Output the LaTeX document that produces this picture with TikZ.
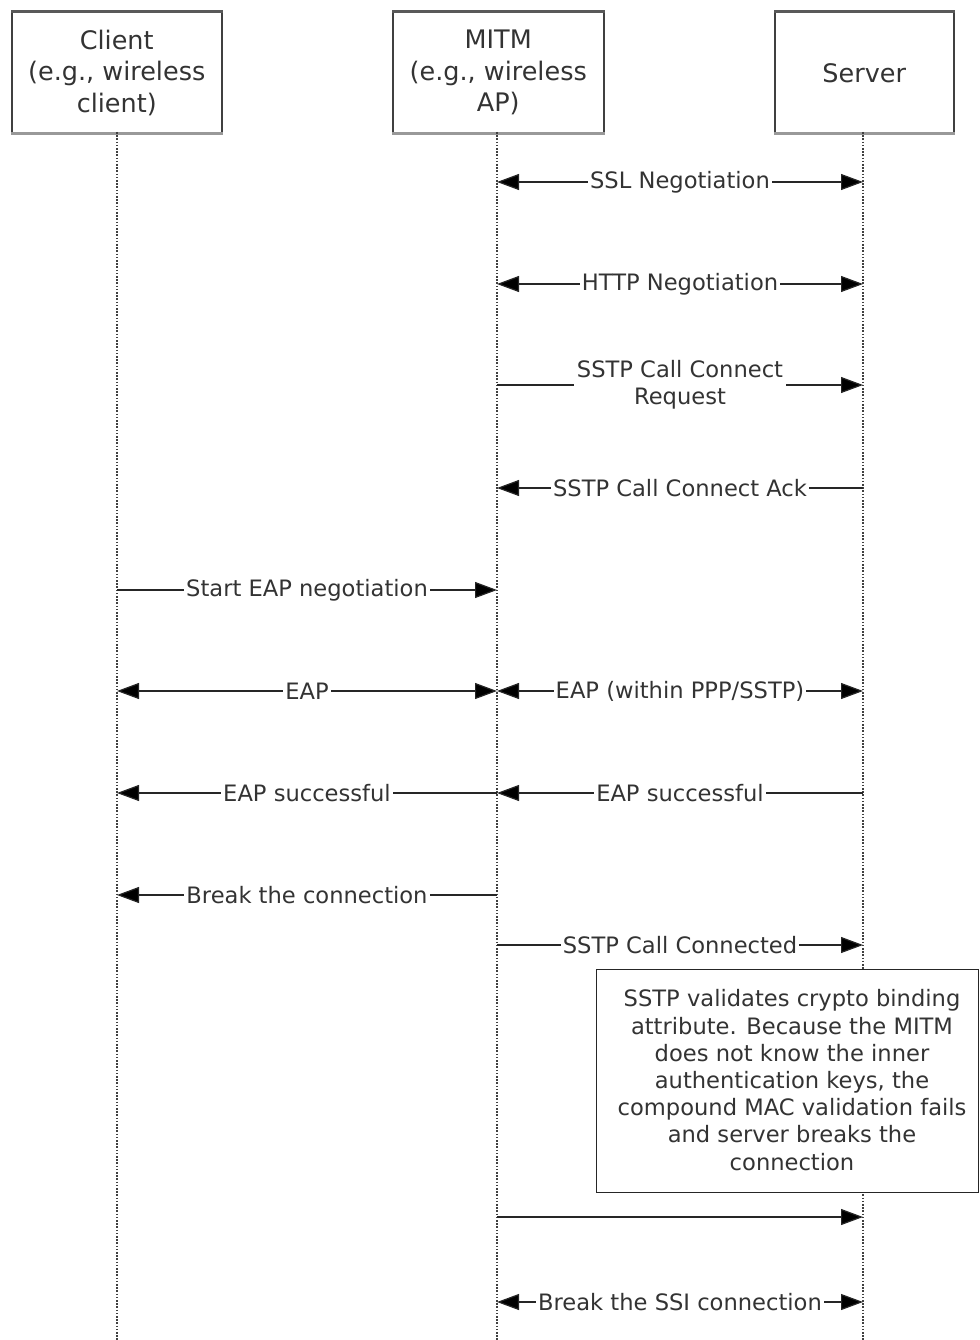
\documentclass[tikz,border=0pt]{standalone}
\usepackage{fontspec}
\setmainfont{DejaVu Sans}
\usetikzlibrary{arrows.meta}
\definecolor{txt}{HTML}{333333}
\begin{document}
\begin{tikzpicture}[x=1pt,y=-1pt,
  font=\fontsize{22.6}{27.2}\selectfont,
  head/.style={draw=black!75,line width=1.5pt,minimum width=#1,minimum height=120pt,align=center,text=txt,inner sep=0pt,anchor=north west,font=\fontsize{25.5}{31.5}\selectfont},
  life/.style={black!75,line width=1.6pt,dash pattern=on 1.6pt off 1.6pt},
  msg/.style={black!85,line width=1.2pt,-{Triangle[length=22pt,width=16pt,fill=black]}},
  dmsg/.style={black!85,line width=1.2pt,{Triangle[length=22pt,width=16pt,fill=black]}-{Triangle[length=22pt,width=16pt,fill=black]}},
  lbl/.style={fill=white,text=txt,inner xsep=2pt,inner ysep=1pt,align=center,midway},
  note/.style={draw=black!85,line width=1.3pt,fill=white,inner sep=0pt}]
\useasboundingbox (0,0) rectangle (979,1340);
% heads
\node[head=210pt] (cl) at (11,12) {Client\\(e.g., wireless\\client)};
\node[head=211pt] (mi) at (392,12) {MITM\\(e.g., wireless\\AP)};
\node[head=179pt] (se) at (774,12) {Server};
\foreach \n in {cl,mi,se}{
  \draw[gray!70!black,line width=3pt] (\n.north west) -- (\n.north east);
  \draw[gray!80,line width=3pt] (\n.south west) -- (\n.south east);
}
% lifelines
\coordinate (clb) at (117,1340);
\coordinate (mib) at (497,1340);
\coordinate (seb) at (863,1340);
\draw[life] (117,132) coordinate (clt) -- (clb);
\draw[life] (497,132) coordinate (mit) -- (mib);
\draw[life] (863,132) coordinate (set) -- (seb);
% message anchor points
\foreach \y/\k in {182/a,284/b,385/c,488/d,590/e,691/f,793/g,895/h,945/i,1217/j,1302/k}{
  \coordinate (C\k) at (117,\y);
  \coordinate (M\k) at (497,\y);
  \coordinate (S\k) at (863,\y);
}
\draw[dmsg] (Ma) -- node[lbl] {SSL Negotiation} (Sa);
\draw[dmsg] (Mb) -- node[lbl] {HTTP Negotiation} (Sb);
\draw[msg] (Mc) -- node[lbl,inner xsep=3pt] {SSTP Call Connect\\Request} (Sc);
\draw[msg] (Sd) -- node[lbl] {SSTP Call Connect Ack} (Md);
\draw[msg] (Ce) -- node[lbl] {Start EAP negotiation} (Me);
\draw[dmsg] (Cf) -- node[lbl] {EAP} (Mf);
\draw[dmsg] (Mf) -- node[lbl] {EAP (within PPP/SSTP)} (Sf);
\draw[msg] (Sg) -- node[lbl] {EAP successful} (Mg);
\draw[msg] (Mg) -- node[lbl] {EAP successful} (Cg);
\draw[msg] (Mh) -- node[lbl] {Break the connection} (Ch);
\draw[msg] (Mi) -- node[lbl] {SSTP Call Connected} (Si);
\node[note,minimum width=382pt,minimum height=223pt,anchor=north west] (nt) at (596,969) {};
\node[text=txt,align=center,inner sep=0pt] (ntt) at (792,1080) {SSTP validates crypto binding\\attribute. Because the MITM\\does not know the inner\\authentication keys, the\\compound MAC validation fails\\and server breaks the\\connection};
\draw[msg] (Mj) -- (Sj);
\draw[dmsg] (Mk) -- node[lbl] {Break the SSI connection} (Sk);
\end{tikzpicture}
\end{document}
